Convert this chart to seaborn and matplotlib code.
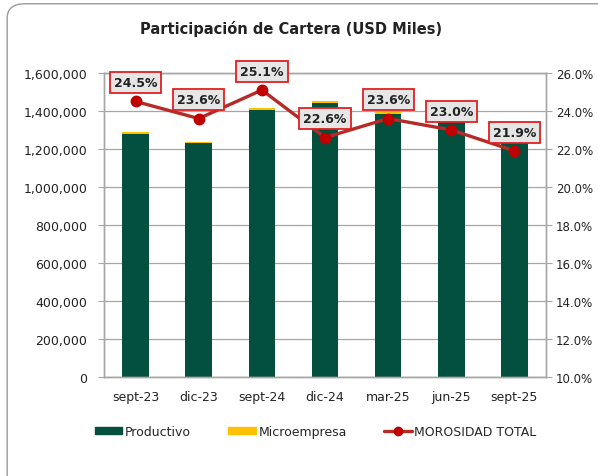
import numpy as np
import pandas as pd
import matplotlib
matplotlib.use("Agg")
import matplotlib.pyplot as plt
import matplotlib.ticker as mticker
from matplotlib.patches import FancyBboxPatch, Patch
from matplotlib.lines import Line2D
import seaborn as sns

# datos
periodos = ["sept-23", "dic-23", "sept-24", "dic-24", "mar-25", "jun-25", "sept-25"]
productivo = [1279000, 1229000, 1405000, 1444000, 1386000, 1350000, 1243000]
microempresa = [11000, 10000, 9000, 9000, 9000, 8000, 8000]
morosidad = [24.5, 23.6, 25.1, 22.6, 23.6, 23.0, 21.9]

VERDE = "#03503F"
AMARILLO = "#FFC000"
ROJO_LINEA = "#B52B27"
ROJO_PUNTO = "#C00000"
GRIS = "#A6A6A6"

sns.set_style("white")
plt.rcParams["font.family"] = ["DejaVu Sans"]

df = pd.DataFrame({"periodo": periodos, "productivo": productivo,
                   "microempresa": microempresa, "morosidad": morosidad})
df["total"] = df["productivo"] + df["microempresa"]

fig = plt.figure(figsize=(5.98, 4.77), dpi=100)
ax = fig.add_axes([0.174, 0.2075, 0.739, 0.6375])

# barras apiladas: total (amarillo) debajo y productivo (verde) encima
sns.barplot(data=df, x="periodo", y="total", color=AMARILLO, width=0.42,
            saturation=1, ax=ax, linewidth=0)
sns.barplot(data=df, x="periodo", y="productivo", color=VERDE, width=0.42,
            saturation=1, ax=ax, linewidth=0)

ax.set_ylim(0, 1600000)
ax.set_xlim(-0.5, len(periodos) - 0.5)
ax.yaxis.set_major_locator(mticker.MultipleLocator(200000))
ax.yaxis.set_major_formatter(mticker.FuncFormatter(lambda v, p: f"{v:,.0f}"))
ax.grid(axis="y", color=GRIS, linewidth=0.9)
ax.set_axisbelow(True)
ax.set_xlabel("")
ax.set_ylabel("")
for s in ax.spines.values():
    s.set_color(GRIS)
    s.set_linewidth(1.0)
ax.tick_params(axis="y", labelsize=9, colors="#222222", length=4, color=GRIS,
               left=True, pad=8)
ax.tick_params(axis="x", labelsize=9, colors="#222222", length=0, pad=9)

# eje secundario: morosidad
ax2 = ax.twinx()
xpos = np.arange(len(periodos))
ax2.plot(xpos, df["morosidad"], color=ROJO_LINEA, linewidth=2.4, marker="o",
         markersize=7.5, markerfacecolor=ROJO_PUNTO, markeredgecolor=ROJO_PUNTO,
         zorder=3)
ax2.set_ylim(10, 26)
ax2.yaxis.set_major_locator(mticker.MultipleLocator(2))
ax2.yaxis.set_major_formatter(mticker.FuncFormatter(lambda v, p: f"{v:.1f}%"))
ax2.tick_params(axis="y", labelsize=8.5, colors="#222222", length=4, color=GRIS,
                right=True, pad=3)
for s in ax2.spines.values():
    s.set_color(GRIS)
    s.set_linewidth(1.0)

for x, v in zip(xpos, df["morosidad"]):
    ax2.annotate(f"{v:.1f}%", (x, v), xytext=(0, 13.5), textcoords="offset points",
                 ha="center", va="center", fontsize=9, fontweight="bold",
                 color="#222222", zorder=5,
                 bbox=dict(boxstyle="square,pad=0.32", fc="#E6E6E6",
                           ec="#E02020", lw=1.3))

fig.suptitle("Participación de Cartera (USD Miles)", x=0.487, y=0.955,
             fontsize=10.5, fontweight="bold", color="#222222")

handles = [Patch(color=VERDE, label="Productivo"),
           Patch(color=AMARILLO, label="Microempresa"),
           Line2D([0], [0], color=ROJO_LINEA, lw=2.4, marker="o", markersize=6,
                  markerfacecolor=ROJO_PUNTO, markeredgecolor=ROJO_PUNTO,
                  label="MOROSIDAD TOTAL")]
fig.legend(handles=handles, loc="center", bbox_to_anchor=(0.528, 0.094), ncol=3,
           frameon=False, fontsize=9, handlelength=2.2, handleheight=0.5,
           handletextpad=0.2, columnspacing=3.0)

# marco redondeado del gráfico
marco = FancyBboxPatch((0.012, -0.05), 1.05, 1.04, transform=fig.transFigure,
                       boxstyle="round,pad=0,rounding_size=0.03",
                       fc="none", ec="#9A9A9A", lw=1.0)
fig.patches.append(marco)

fig.savefig("out.png", dpi=100)
